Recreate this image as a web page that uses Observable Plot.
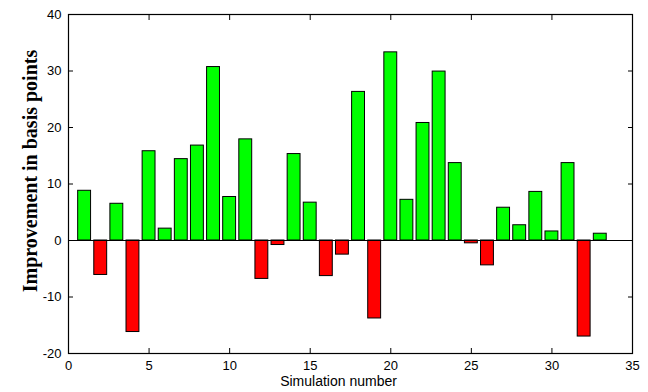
<!DOCTYPE html>
<html>
<head>
<meta charset="utf-8">
<script src="https://cdn.jsdelivr.net/npm/d3@7"></script>
<script src="https://cdn.jsdelivr.net/npm/@observablehq/plot@0.6"></script>
<style>
  html, body { margin: 0; padding: 0; background: #fff; }
</style>
</head>
<body>
<div id="chart"></div>
<script>
const simulations = d3.range(1, 34);
const improvements = [8.8, -6.1, 6.5, -16.2, 15.8, 2.1, 14.4, 16.8, 30.7, 7.7, 17.9, -6.8, -0.8, 15.3, 6.7, -6.3, -2.5, 26.3, -13.8, 33.3, 7.2, 20.8, 29.9, 13.7, -0.5, -4.4, 5.8, 2.7, 8.6, 1.6, 13.7, -17.0, 1.2];
const xTicks = [0, 5, 10, 15, 20, 25, 30, 35];
const yTicks = [-20, -10, 0, 10, 20, 30, 40];
const xLabel = "Simulation number";
const yLabel = "Improvement in basis points";
const barHalfWidth = 0.4;

const data = simulations.map((s, i) => ({sim: s, value: improvements[i]}));

const chart = Plot.plot({
  width: 648,
  height: 392,
  marginLeft: 68,
  marginRight: 16,
  marginTop: 14,
  marginBottom: 39,
  style: {fontFamily: "Liberation Sans, Arial, sans-serif", fontSize: "13px", color: "#000", background: "#fff"},
  x: {domain: [0, 35]},
  y: {domain: [-20, 40]},
  marks: [
    Plot.rectY(data, {
      x1: d => d.sim - barHalfWidth,
      x2: d => d.sim + barHalfWidth,
      y1: 0,
      y2: "value",
      fill: d => d.value >= 0 ? "#00ff00" : "#ff0000",
      stroke: "#000",
      strokeWidth: 1
    }),
    Plot.ruleY([0], {stroke: "#000", strokeWidth: 1}),
    Plot.frame({stroke: "#000", strokeWidth: 1.2}),
    Plot.axisX(xTicks, {anchor: "bottom", tickSize: -5, tickPadding: 12, label: null, fontSize: 13, tickFormat: d => String(d)}),
    Plot.axisX(xTicks, {anchor: "top", tickSize: -5, tickFormat: () => "", label: null}),
    Plot.axisY(yTicks, {anchor: "left", tickSize: -5, tickPadding: 12, label: null, fontSize: 13, tickFormat: d => String(d)}),
    Plot.axisY(yTicks, {anchor: "right", tickSize: -5, tickFormat: () => "", label: null}),
    Plot.text([xLabel], {frameAnchor: "bottom", dy: 32, dx: -12, fontSize: 14, fontFamily: "Liberation Sans, Arial, sans-serif"}),
    Plot.text([yLabel], {frameAnchor: "left", textAnchor: "middle", rotate: -90, dx: -38, dy: -13, fontSize: 20, fontWeight: "bold", fontFamily: "Liberation Serif, Times New Roman, serif"})
  ]
});
document.getElementById("chart").appendChild(chart);
</script>
</body>
</html>
